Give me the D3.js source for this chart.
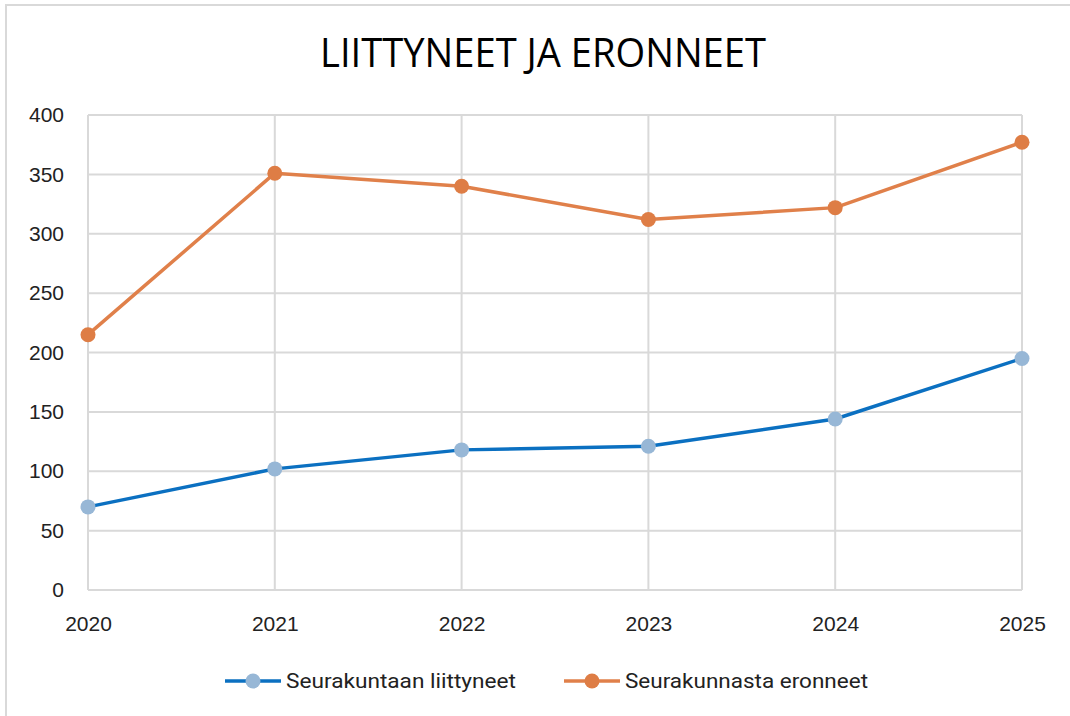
<!DOCTYPE html>
<html>
<head>
<meta charset="utf-8">
<script src="https://cdn.jsdelivr.net/npm/d3@7"></script>
<style>
  html, body { margin: 0; padding: 0; background: #fff; }
  svg { display: block; }
</style>
</head>
<body>
<svg id="chart" width="1070" height="716"></svg>
<script>
const years = ["2020", "2021", "2022", "2023", "2024", "2025"];
const joined = [70, 102, 118, 121, 144, 195];
const resigned = [215, 351, 340, 312, 322, 377];
const yTicks = [0, 50, 100, 150, 200, 250, 300, 350, 400];
const seriesNames = ["Seurakuntaan liittyneet", "Seurakunnasta eronneet"];
const titleText = "LIITTYNEET JA ERONNEET";

const svg = d3.select("#chart");

// outer border
svg.append("rect")
  .attr("x", 6).attr("y", 5).attr("width", 1080).attr("height", 740)
  .attr("fill", "#fff").attr("stroke", "#d9d9d9").attr("stroke-width", 2);

const x = d3.scalePoint().domain(years).range([88, 1022]);
const y = d3.scaleLinear().domain([0, 400]).range([590, 115]);

// title
svg.append("text")
  .attr("x", 543).attr("y", 67)
  .attr("text-anchor", "middle")
  .attr("font-family", "'Open Sans', 'Noto Sans', sans-serif")
  .attr("font-size", 40)
  .attr("fill", "#000")
  .attr("textLength", 446).attr("lengthAdjust", "spacingAndGlyphs")
  .text(titleText);

// gridlines
const grid = svg.append("g");
grid.selectAll("line.h").data(yTicks).join("line")
  .attr("x1", x(years[0])).attr("x2", x(years[years.length - 1]))
  .attr("y1", d => y(d)).attr("y2", d => y(d))
  .attr("stroke", "#d9d9d9").attr("stroke-width", 2);
grid.selectAll("line.v").data(years).join("line")
  .attr("x1", d => x(d)).attr("x2", d => x(d))
  .attr("y1", y(0)).attr("y2", y(400))
  .attr("stroke", "#d9d9d9").attr("stroke-width", 2);

// axis labels
const yAxis = d3.axisLeft(y).tickValues(yTicks).tickSize(0).tickPadding(24);
const gy = svg.append("g").attr("transform", `translate(${x(years[0])},0)`).call(yAxis);
gy.select(".domain").remove();
gy.selectAll("text")
  .attr("font-family", "Arial, 'Liberation Sans', sans-serif")
  .attr("font-size", 21).attr("fill", "#222");

const xAxis = d3.axisBottom(x).tickSize(0).tickPadding(26);
const gx = svg.append("g").attr("transform", `translate(0,${y(0)})`).call(xAxis);
gx.select(".domain").remove();
gx.selectAll("text")
  .attr("font-family", "Arial, 'Liberation Sans', sans-serif")
  .attr("font-size", 21).attr("fill", "#222");

// series
const series = [
  { name: seriesNames[0], values: joined, line: "#0b70c1", marker: "#97b7d6" },
  { name: seriesNames[1], values: resigned, line: "#e0804a", marker: "#de7d45" }
];
const lineGen = d3.line().x((d, i) => x(years[i])).y(d => y(d));

series.forEach(s => {
  svg.append("path")
    .datum(s.values)
    .attr("d", lineGen)
    .attr("fill", "none")
    .attr("stroke", s.line)
    .attr("stroke-width", 3.5)
    .attr("stroke-linejoin", "round");
  svg.append("g").selectAll("circle").data(s.values).join("circle")
    .attr("cx", (d, i) => x(years[i]))
    .attr("cy", d => y(d))
    .attr("r", 7.5)
    .attr("fill", s.marker);
});

// legend
const legendItems = [
  { s: series[0], lx1: 225, lx2: 281, mx: 253, tx: 286, tw: 230 },
  { s: series[1], lx1: 564, lx2: 620, mx: 592, tx: 625, tw: 243 }
];
const ly = 681;
legendItems.forEach(it => {
  svg.append("line")
    .attr("x1", it.lx1).attr("x2", it.lx2).attr("y1", ly).attr("y2", ly)
    .attr("stroke", it.s.line).attr("stroke-width", 3.5);
  svg.append("circle").attr("cx", it.mx).attr("cy", ly).attr("r", 7.5).attr("fill", it.s.marker);
  svg.append("text")
    .attr("x", it.tx).attr("y", 688)
    .attr("font-family", "Roboto, Arial, sans-serif")
    .attr("font-size", 20).attr("fill", "#222")
    .attr("textLength", it.tw).attr("lengthAdjust", "spacingAndGlyphs")
    .text(it.s.name);
});
</script>
</body>
</html>
